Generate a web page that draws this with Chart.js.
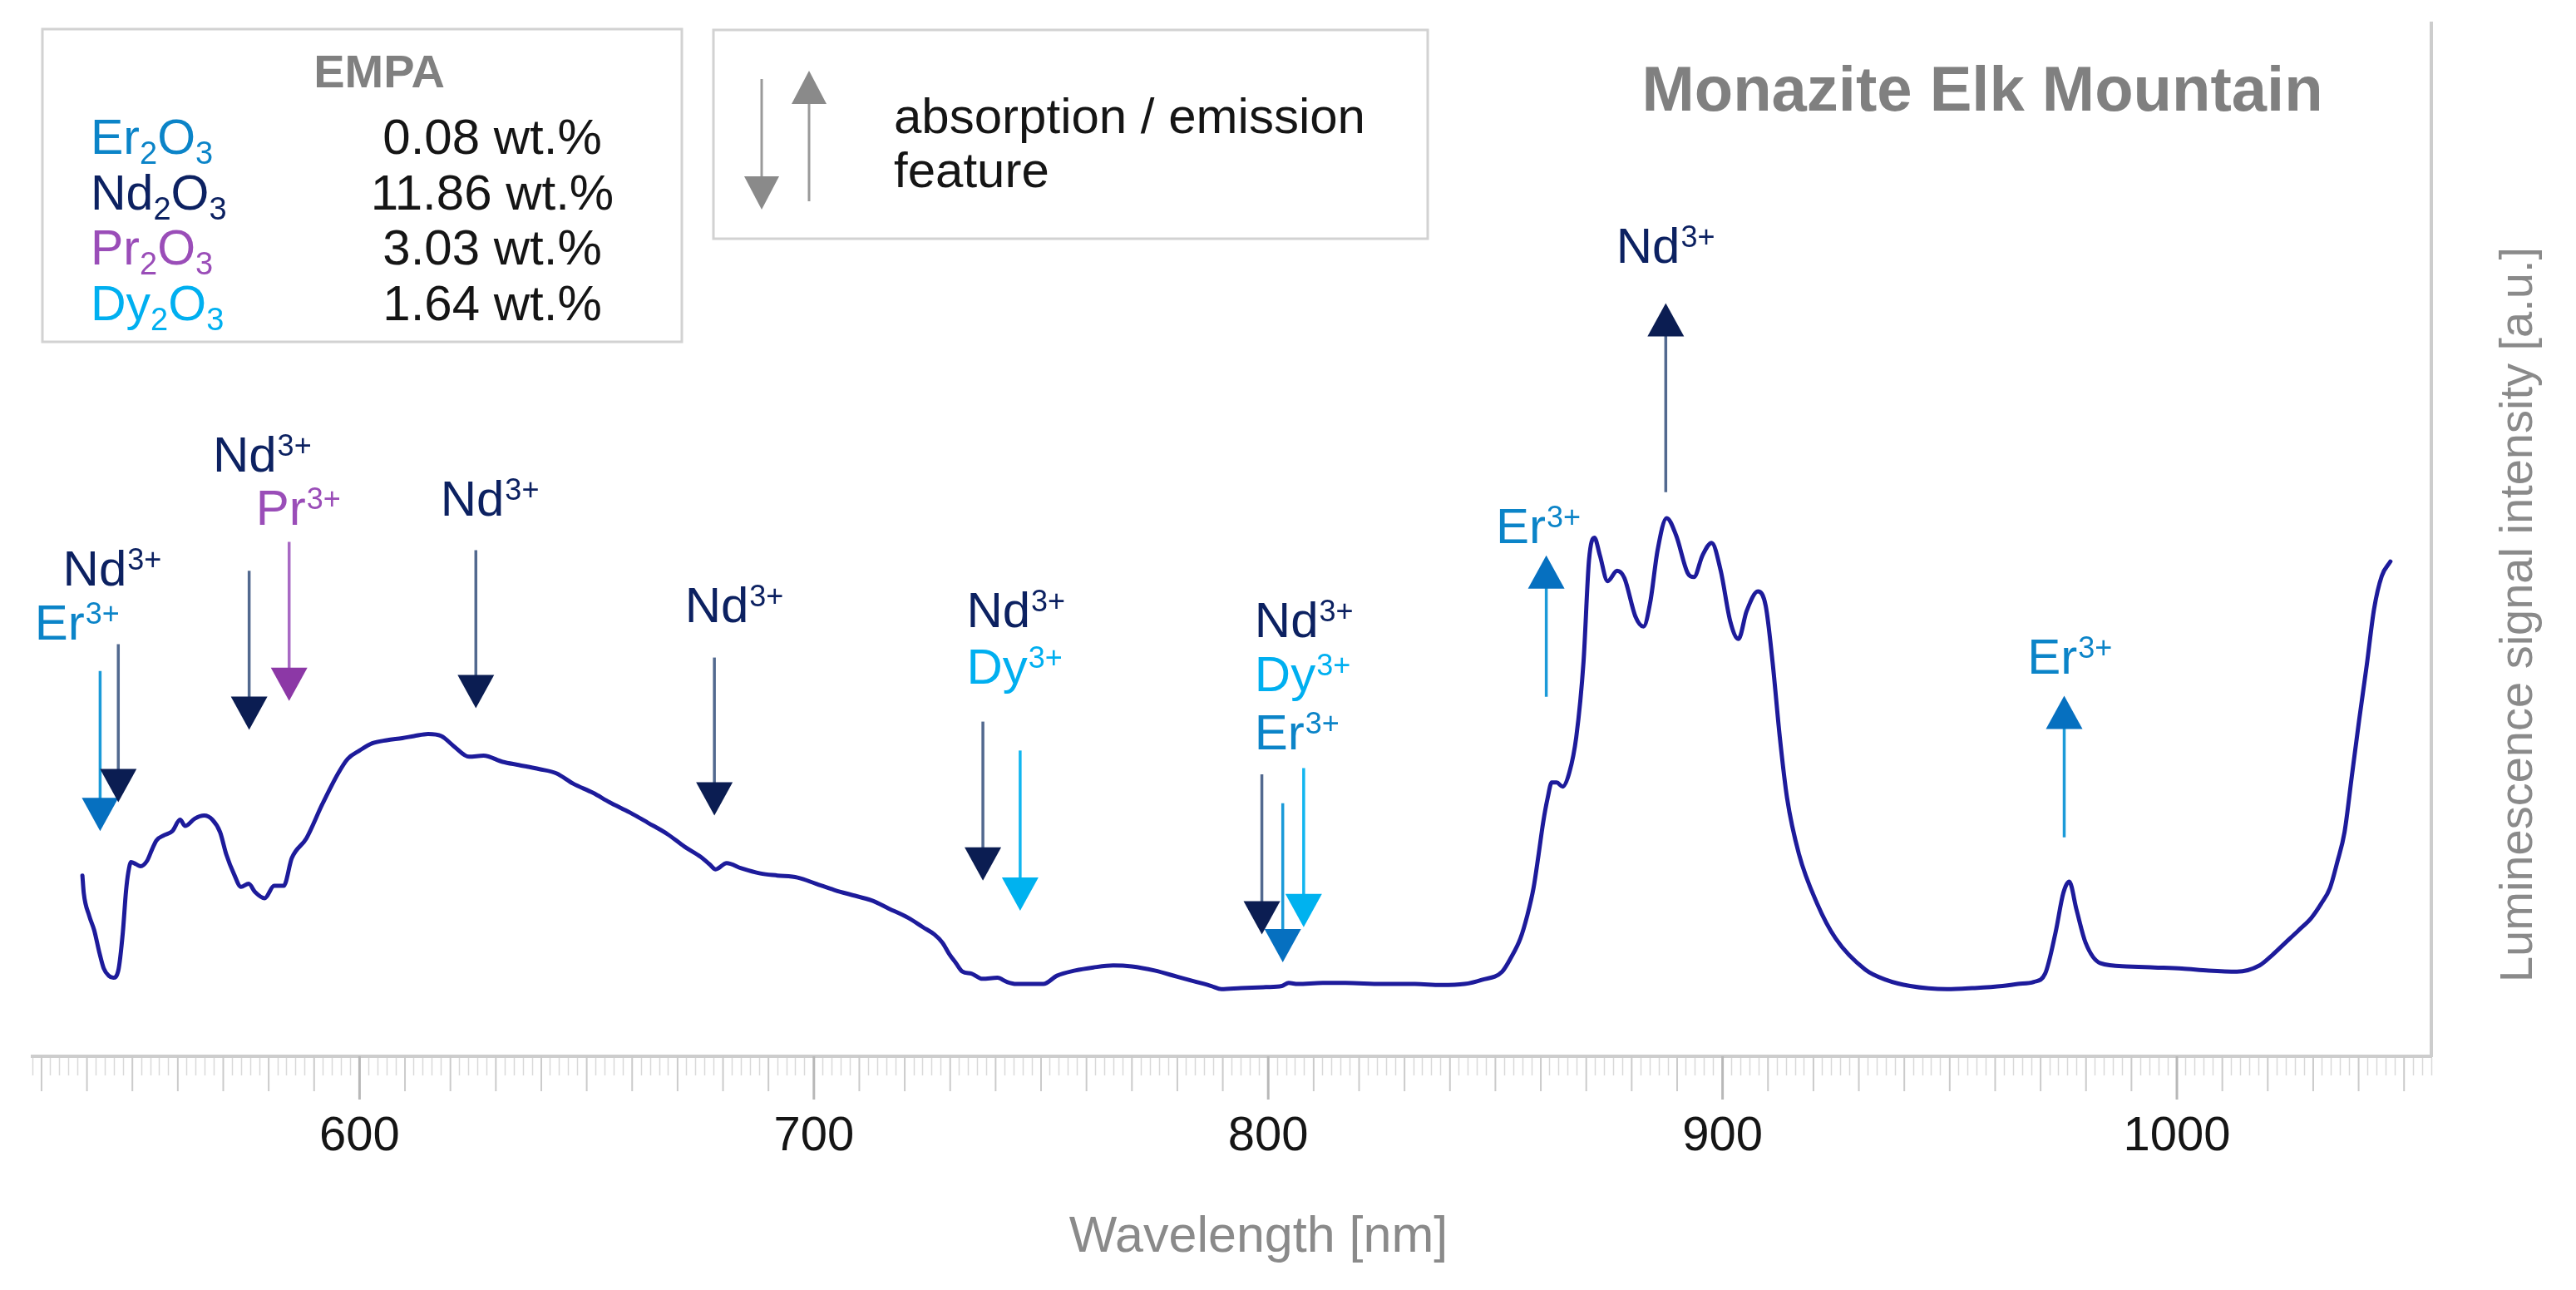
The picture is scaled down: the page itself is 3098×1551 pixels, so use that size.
<!DOCTYPE html>
<html><head><meta charset="utf-8">
<script src="https://cdn.jsdelivr.net/npm/chart.js@4.4.1/dist/chart.umd.min.js"></script>
<style>html,body{margin:0;padding:0;background:#fff;overflow:hidden}canvas{display:block}</style>
</head><body>
<canvas id="c" width="3098" height="1551" style="width:3098px;height:1551px"></canvas>
<script>
// ---- spectrum (wavelength nm, luminescence intensity a.u.) ----
const wavelength = [539.0,539.3,540.5,541.6,542.7,543.7,544.8,545.8,546.9,547.9,548.6,549.1,549.7,550.8,551.8,553.2,554.3,555.3,557.0,558.8,560.5,561.6,563.7,565.8,567.6,569.3,570.7,572.4,573.9,575.6,577.0,579.1,581.2,583.3,585.1,588.3,591.8,595.3,597.4,600.0,602.8,606.0,609.4,612.0,615.1,618.0,620.8,624.1,627.3,631.5,635.0,639.6,643.3,647.0,651.4,655.0,659.5,663.5,667.8,671.5,675.1,677.0,678.4,680.8,684.0,688.2,692.0,696.4,700.5,704.5,708.5,712.6,716.5,720.8,724.0,726.5,728.3,729.8,731.3,732.7,734.7,737.1,740.4,742.5,744.5,748.6,750.5,753.5,757.5,761.5,765.9,770.0,775.0,780.0,784.2,787.5,789.7,794.0,799.5,803.0,804.5,806.5,812.0,817.0,825.0,832.3,838.0,843.2,847.0,851.5,853.5,855.5,857.0,858.4,859.5,860.5,861.5,862.4,863.5,864.8,866.3,867.8,869.4,870.6,871.8,873.0,874.7,876.8,878.4,880.8,882.6,884.1,885.7,887.7,889.8,892.3,893.7,895.6,897.6,899.6,901.7,903.5,905.3,907.8,909.5,911.0,912.6,914.2,916.8,920.8,924.9,931.4,936.0,941.3,949.4,955.0,961.6,965.0,968.5,971.0,973.3,975.0,976.3,977.9,979.9,983.2,988.9,995.0,1001.1,1007.0,1013.2,1018.2,1021.0,1023.9,1026.8,1029.6,1031.8,1033.7,1035.3,1036.9,1038.5,1040.1,1041.8,1043.4,1045.1,1047.0];
const intensity = [17.5,15.8,13.6,12.2,10.1,8.5,7.8,7.6,8.3,12.0,16.0,17.8,18.8,18.6,18.4,18.9,20.0,20.9,21.4,21.8,22.9,22.3,23.0,23.3,22.9,21.7,19.5,17.6,16.4,16.7,15.9,15.3,16.5,16.5,19.2,21.1,24.4,27.4,28.8,29.6,30.3,30.6,30.8,31.0,31.2,31.0,30.0,29.0,29.1,28.5,28.2,27.8,27.4,26.4,25.5,24.6,23.6,22.6,21.5,20.3,19.3,18.6,18.1,18.7,18.2,17.7,17.5,17.3,16.7,16.1,15.6,15.1,14.3,13.4,12.5,11.8,11.0,9.9,9.0,8.2,8.0,7.5,7.6,7.2,7.0,7.0,7.0,7.8,8.3,8.6,8.8,8.7,8.3,7.7,7.2,6.8,6.5,6.6,6.7,6.8,7.1,7.0,7.1,7.1,7.0,7.0,6.9,7.0,7.4,8.2,9.6,11.4,13.6,16.3,19.5,22.6,25.0,26.5,26.5,26.1,27.5,30.9,38.2,48.0,50.2,48.5,46.0,47.0,46.3,42.6,41.6,44.0,49.0,52.1,50.4,46.8,46.4,48.5,49.7,47.0,42.1,40.4,43.1,45.0,43.6,38.2,30.9,25.0,19.6,14.8,11.4,8.4,7.4,6.8,6.5,6.6,6.8,7.0,7.2,8.0,12.0,15.8,16.9,14.2,11.0,9.0,8.7,8.6,8.5,8.3,8.2,8.8,9.8,11.0,12.2,13.4,14.8,16.3,18.8,21.7,27.1,32.5,37.9,43.3,46.5,47.9];

// ---- axis ----
const xMin = 528, xMax = 1056, xStep = 2;
const majorEvery = 100, mediumEvery = 10;

// ---- feature arrows (nm, tail value, tip value) ----
const arrowIon  = ['Er','Nd','Nd','Pr','Nd','Nd','Nd','Dy','Nd','Er','Dy','Er','Nd','Er'];
const arrowNm   = [542.9,546.9,575.7,584.5,625.6,678.1,737.2,745.4,798.6,803.2,807.8,861.2,887.5,975.2];
const arrowTail = [37.3,39.9,47.0,49.8,49.0,38.6,32.4,29.6,27.3,24.5,27.9,34.8,54.6,21.2];
const arrowTip  = [21.8,24.6,31.6,34.4,33.7,23.3,17.0,14.1,11.8,9.1,12.5,48.5,72.9,34.9];

// ---- ion labels (left nm, centre value) ----
const labelIon = ['Nd','Er','Nd','Pr','Nd','Nd','Nd','Dy','Nd','Dy','Er','Er','Nd','Er'];
const labelNm  = [534.7,528.5,567.7,577.2,617.8,671.6,733.6,733.6,797.0,797.0,797.0,850.1,876.6,967.1];
const labelVal = [47.3,42.0,58.3,53.1,54.0,43.7,43.2,37.8,42.3,37.0,31.4,51.4,78.5,38.7];

// ---- EMPA table ----
const oxideElement = ['Er','Nd','Pr','Dy'];
const oxideWt = ['0.08 wt.%','11.86 wt.%','3.03 wt.%','1.64 wt.%'];

const chartTitle = 'Monazite Elk Mountain';
const xTitle = 'Wavelength [nm]';
const yTitle = 'Luminescence signal intensity [a.u.]';
const legendText = ['absorption / emission','feature'];

const FAM = '"Liberation Sans", Arial, Helvetica, sans-serif';
const ionStyle = {
  Er: {text:'#0b84c8', head:'#0670c0', shaft:'#1b9ad8'},
  Nd: {text:'#0c2161', head:'#0b1d52', shaft:'#52698f'},
  Pr: {text:'#9a4db8', head:'#8c38a6', shaft:'#a869c4'},
  Dy: {text:'#00aff0', head:'#00b2ef', shaft:'#12b6f0'}
};

function drawArrow(ctx, px, pTail, pTip, head, shaft, hw, hh, lw){
  const dir = pTip > pTail ? 1 : -1;
  const baseY = pTip - dir*hh;
  ctx.strokeStyle = shaft; ctx.lineWidth = lw; ctx.lineCap='butt';
  ctx.beginPath(); ctx.moveTo(px, pTail); ctx.lineTo(px, baseY + dir*2); ctx.stroke();
  ctx.fillStyle = head;
  ctx.beginPath(); ctx.moveTo(px-hw/2, baseY); ctx.lineTo(px+hw/2, baseY); ctx.lineTo(px, pTip); ctx.closePath(); ctx.fill();
}
function drawIon(ctx, x, base, ion, color){
  ctx.fillStyle = color; ctx.textAlign='left'; ctx.textBaseline='alphabetic';
  ctx.font = `60px ${FAM}`;
  ctx.fillText(ion, x, base);
  const w = ctx.measureText(ion).width;
  ctx.font = `36px ${FAM}`;
  ctx.fillText('3+', x + w + 1, base - 19);
}
function drawOxide(ctx, x, base, el, color){
  ctx.fillStyle = color; ctx.textAlign='left'; ctx.textBaseline='alphabetic';
  ctx.font = `59px ${FAM}`;
  ctx.fillText(el, x, base);
  let cx = x + ctx.measureText(el).width;
  ctx.font = `38px ${FAM}`;
  ctx.fillText('2', cx, base + 12);
  cx += ctx.measureText('2').width;
  ctx.font = `59px ${FAM}`;
  ctx.fillText('O', cx, base);
  cx += ctx.measureText('O').width;
  ctx.font = `38px ${FAM}`;
  ctx.fillText('3', cx, base + 12);
}

const overlay = {
  id:'overlay',
  afterDraw(chart){
    const {ctx, scales:{x, y}} = chart;
    ctx.save();
    // medium and major tick marks
    x.ticks.forEach(t => {
      const v = t.value;
      if (v % mediumEvery !== 0) return;
      const px = x.getPixelForValue(v);
      const major = v % majorEvery === 0;
      ctx.strokeStyle = major ? '#b8b8b8' : '#cbcbcb';
      ctx.lineWidth = major ? 3 : 2;
      ctx.beginPath(); ctx.moveTo(px, x.top); ctx.lineTo(px, x.top + (major ? 52 : 42)); ctx.stroke();
    });
    // feature arrows
    arrowIon.forEach((ion, i) => {
      const s = ionStyle[ion];
      drawArrow(ctx, x.getPixelForValue(arrowNm[i]), y.getPixelForValue(arrowTail[i]), y.getPixelForValue(arrowTip[i]), s.head, s.shaft, 44, 40, 3.5);
    });
    // ion labels
    labelIon.forEach((ion, i) => {
      drawIon(ctx, x.getPixelForValue(labelNm[i]), y.getPixelForValue(labelVal[i]) + 21, ion, ionStyle[ion].text);
    });
    // axis titles
    ctx.fillStyle = '#8a8a8a'; ctx.textAlign='center'; ctx.textBaseline='middle';
    ctx.font = `61px ${FAM}`;
    ctx.fillText(xTitle, (x.left + x.right)/2 + 32, 1488);
    ctx.save();
    ctx.translate(3030, (y.top + y.bottom)/2 + 90);
    ctx.rotate(-Math.PI/2);
    ctx.font = `56px ${FAM}`;
    ctx.fillText(yTitle, 0, 0);
    ctx.restore();
    // title
    ctx.fillStyle = '#808080'; ctx.font = `bold 76px ${FAM}`;
    ctx.fillText(chartTitle, 2384, 112);
    // EMPA box
    ctx.strokeStyle = '#d2d2d2'; ctx.lineWidth = 3;
    ctx.strokeRect(51, 35, 769, 376);
    ctx.fillStyle = '#808080'; ctx.font = `bold 56px ${FAM}`; ctx.textAlign='center';
    ctx.fillText('EMPA', 456, 90);
    const bases = [185, 252, 318, 385];
    oxideElement.forEach((el, i) => {
      drawOxide(ctx, 109, bases[i], el, ionStyle[el].text);
      ctx.fillStyle = '#151515'; ctx.font = `60px ${FAM}`; ctx.textAlign='center'; ctx.textBaseline='alphabetic';
      ctx.fillText(oxideWt[i], 592, bases[i]);
    });
    // legend box
    ctx.strokeStyle = '#d2d2d2'; ctx.lineWidth = 3;
    ctx.strokeRect(858, 36, 859, 251);
    drawArrow(ctx, 916, 95, 252, '#8a8a8a', '#9a9a9a', 42, 40, 3);
    drawArrow(ctx, 973, 242, 85, '#8a8a8a', '#9a9a9a', 42, 40, 3);
    ctx.fillStyle = '#151515'; ctx.font = `60px ${FAM}`; ctx.textAlign='left'; ctx.textBaseline='middle';
    ctx.fillText(legendText[0], 1075, 143);
    ctx.fillText(legendText[1], 1075, 208);
    ctx.restore();
  }
};

Chart.defaults.font.family = FAM;
new Chart(document.getElementById('c').getContext('2d'), {
  type:'line',
  data:{ datasets:[{
    data: wavelength.map((w, i) => ({x: w, y: intensity[i]})),
    borderColor:'#1d1b9b', borderWidth:5, pointRadius:0, fill:false,
    cubicInterpolationMode:'monotone', tension:0.4, borderJoinStyle:'round', borderCapStyle:'round'
  }]},
  options:{
    responsive:false, animation:false, devicePixelRatio:1,
    layout:{padding:{left:37, top:28, right:0, bottom:0}},
    plugins:{legend:{display:false}, tooltip:{enabled:false}, title:{display:false}},
    scales:{
      x:{
        type:'linear', min:xMin, max:xMax, bounds:'ticks',
        grid:{drawOnChartArea:false, drawTicks:true, tickLength:23, tickWidth:1.5,
              tickColor: c => (c.tick && c.tick.value % mediumEvery === 0) ? 'rgba(0,0,0,0)' : '#d9d9d9'},
        border:{display:true, color:'#cdcdcd', width:4},
        ticks:{stepSize:xStep, autoSkip:false, maxRotation:0, minRotation:0, includeBounds:false,
               padding:39, color:'#151515', font:{size:58},
               callback: v => (v % majorEvery === 0 ? String(v) : '')},
        afterFit: s => { s.height = 281; }
      },
      y:{
        position:'right', min:0, max:100,
        grid:{display:false}, ticks:{display:false},
        border:{display:true, color:'#cdcdcd', width:4},
        afterFit: s => { s.width = 174; }
      }
    }
  },
  plugins:[overlay]
});
</script>
</body></html>
